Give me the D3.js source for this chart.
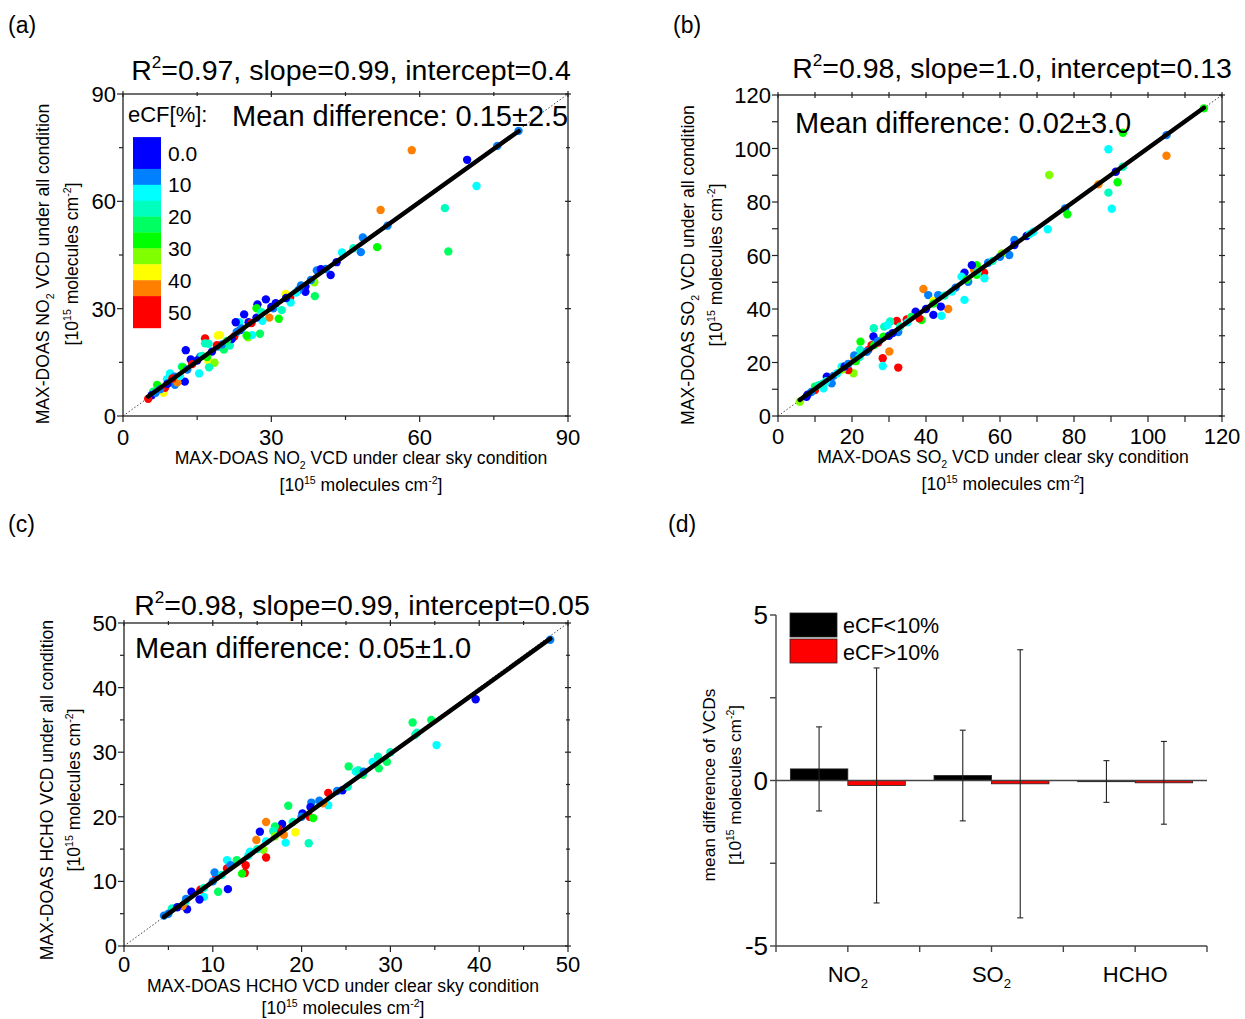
<!DOCTYPE html>
<html><head><meta charset="utf-8">
<script src="https://cdn.jsdelivr.net/npm/d3@7"></script>
<style>body{margin:0;background:#fff}text{font-family:"Liberation Sans",Arial,sans-serif;fill:#000}</style>
</head><body><svg id="c" width="1245" height="1019"></svg>
<script>
// ---------- DATA ----------
const ecfColors = ["#0000ff","#0080ff","#00ffff","#00ffbf","#00ff60","#00ff00","#80ff00","#ffff00","#ff8000","#ff0000"];
const ecfLegendLabels = ["0.0","10","20","30","40","50"];
// [clear-sky VCD, all-condition VCD, eCF class index]
const no2Points = [[80.0,79.7,1],[75.7,75.5,1],[69.6,71.6,0],[58.4,74.3,8],[71.5,64.3,2],[65.1,58.1,3],[52.1,57.6,8],[53.5,53.2,1],[51.4,47.2,5],[65.8,46.0,4],[48.5,49.9,1],[48.1,45.8,1],[44.3,45.7,2],[46.6,46.9,3],[43.2,43.0,0],[42.0,39.4,0],[41.0,41.1,1],[39.2,40.7,1],[38.7,37.4,6],[38.8,33.5,4],[36.9,36.2,0],[36.9,34.7,0],[35.5,35.2,1],[33.8,33.1,9],[32.9,34.1,7],[33.9,31.7,2],[28.9,32.6,0],[27.2,31.2,0],[27.0,30.1,5],[30.9,31.5,0],[30.4,30.1,1],[32.1,29.6,3],[31.5,27.2,5],[29.6,27.5,8],[28.2,26.6,2],[24.5,28.4,0],[25.4,26.2,0],[23.5,26.2,2],[22.8,26.2,0],[23.7,24.0,0],[27.7,23.0,4],[25.3,22.0,6],[26.1,22.6,2],[25.0,22.5,5],[22.5,22.2,9],[19.6,22.6,7],[19.2,22.5,7],[16.6,21.7,9],[16.6,20.3,3],[17.3,20.2,3],[19.2,19.4,1],[20.4,18.6,4],[21.6,19.7,3],[12.7,18.4,0],[13.7,15.8,0],[15.6,16.6,1],[17.3,15.2,7],[18.5,14.9,6],[17.4,13.6,3],[15.4,11.9,2],[11.9,13.8,3],[12.1,13.6,5],[9.5,11.9,2],[10.5,11.0,1],[12.5,9.6,0],[10.5,8.7,1],[11.0,9.4,8],[6.9,8.7,5],[8.2,6.5,7],[6.1,6.8,4],[8.5,7.9,9],[5.8,5.8,0],[6.6,6.5,1],[8.9,10.3,2],[20,20,1],[22,21.5,0],[24,24.5,1],[26,26,9],[27,27.5,0],[33,33,0],[36,36.5,1],[38,38,1],[9,9,0],[10,10.5,9],[13,13,1],[14,14.5,9],[16,16.8,3],[18,18,0],[17,16.5,5],[28,29,3],[30,30.5,0],[21,21,4],[19,19.8,9],[15,15.5,0],[7.5,7.5,1],[11.5,11.2,2],[23,23.5,1],[35,34.5,2],[40,41,0],[5.1,4.8,9]];
const so2Points = [[115.1,115.0,5],[105.0,105.0,1],[105.0,97.3,8],[93.2,105.9,5],[89.3,99.7,2],[73.3,90.1,6],[91.3,91.3,0],[93.2,93.2,3],[91.8,87.4,5],[86.6,86.6,8],[89.3,83.5,3],[90.2,77.5,2],[77.6,77.6,1],[78.2,75.4,5],[72.9,69.8,2],[69.0,68.9,2],[67.2,67.3,0],[63.9,65.8,1],[63.9,63.9,0],[62.5,60.2,1],[60.5,60.8,6],[56.8,57.3,1],[55.7,53.6,9],[55.8,51.5,2],[53.7,56.4,5],[53.0,54.6,8],[52.4,56.4,0],[50.4,53.6,0],[49.6,52.1,2],[51.4,50.2,1],[53.7,52.8,5],[50.4,43.4,2],[46.0,40.0,8],[39.3,47.5,8],[40.6,45.2,1],[42.0,43.1,7],[43.3,45.2,1],[44.0,40.9,0],[42.0,37.8,0],[44.2,37.5,2],[38.8,35.9,5],[38.2,36.5,9],[37.2,39.0,0],[34.8,36.1,9],[32.1,35.5,9],[30.3,35.3,3],[28.7,33.4,3],[25.9,32.8,3],[25.8,29.7,0],[29.6,34.0,2],[32.5,31.4,1],[28.5,29.6,5],[22.3,27.8,5],[25.3,26.5,9],[27.1,27.5,9],[24.4,24.7,9],[28.3,21.6,9],[30.1,24.1,8],[28.3,18.7,2],[32.5,18.1,9],[20.6,21.8,8],[20.6,22.6,1],[22.2,24.7,3],[20.4,16.0,6],[19.0,17.2,9],[17.2,18.4,2],[17.4,17.4,6],[14.5,12.2,1],[13.2,14.7,0],[12.3,10.4,2],[10.0,9.7,9],[7.7,7.2,0],[15,15,1],[16,16,2],[18,18.5,0],[22,22,3],[24,24,1],[26,26.5,5],[30,30,0],[33,33.5,3],[35,35,2],[40,40,0],[45,45,3],[48,48,1],[58,58,3],[12,12,3],[9,9,1],[10,11,4],[13,13,2],[8,8,0],[11,11.5,3],[19,19.5,1],[21,20.5,5],[27,28,1],[31,31,0],[36,37,4],[42,42,5],[47,46.5,2],[51,51,5],[54,54,3],[60,59.5,1],[68,68,2],[5.9,5.3,6]];
const hchoPoints = [[48.0,47.4,1],[39.6,38.2,0],[32.5,34.6,4],[34.6,35.0,4],[32.8,32.7,3],[35.2,31.1,2],[28.6,29.3,3],[29.6,28.5,4],[28.7,27.5,4],[26.9,26.5,4],[25.3,27.8,4],[26.1,27.0,2],[26.4,27.2,3],[24.6,24.1,0],[25.2,24.7,3],[23.0,23.7,9],[21.1,22.2,1],[23.0,21.8,2],[22.4,22.1,8],[18.5,21.7,4],[20.1,20.5,0],[20.9,20.0,9],[21.3,19.8,5],[20.8,15.9,3],[16.0,19.2,8],[15.3,17.7,0],[17.8,18.9,0],[17.4,18.1,9],[19.3,17.6,7],[18.2,16.0,2],[18.0,17.2,8],[17.0,18.5,4],[16.8,17.8,3],[14.9,16.4,8],[15.7,14.9,6],[16.0,13.7,9],[14.2,14.6,2],[11.6,13.3,2],[12.7,13.3,4],[13.7,12.5,9],[13.6,11.3,9],[13.3,11.2,5],[11.6,12.0,9],[10.4,10.7,9],[10.2,11.4,1],[11.7,8.8,0],[10.6,8.4,4],[8.6,8.7,9],[9.0,7.6,2],[8.5,7.2,0],[7.6,8.4,0],[7.1,5.7,0],[6.9,6.8,3],[6.6,6.2,8],[5.4,5.8,3],[5,5,1],[6,6,0],[7,7.3,1],[9,9,3],[10,10,1],[11,11,3],[12,12.5,1],[14,14,2],[15,15,3],[16,16.2,2],[17,17,6],[19,19.2,3],[20,20,1],[21,21.5,0],[22,22.5,1],[24,24,1],[27,27,1],[28,28.5,2],[30,30,3],[33,33,3],[4.5,4.7,1]];
const fitStats = [
  {r2:"0.97", slope:0.99, slopeTxt:"0.99", icpt:0.4, icptTxt:"0.4", mean:"0.15", sd:"2.5"},
  {r2:"0.98", slope:1.0, slopeTxt:"1.0", icpt:0.13, icptTxt:"0.13", mean:"0.02", sd:"3.0"},
  {r2:"0.98", slope:0.99, slopeTxt:"0.99", icpt:0.05, icptTxt:"0.05", mean:"0.05", sd:"1.0"}
];
const barCategories = ["NO2","SO2","HCHO"];
const clearMean = [0.35, 0.15, -0.03];
const clearSd = [1.27, 1.37, 0.63];
const cloudyMean = [-0.15, -0.10, -0.07];
const cloudySd = [3.55, 4.05, 1.25];
const barSeriesLabels = ["eCF<10%","eCF>10%"];

// ---------- DRAWING ----------
const svg = d3.select("#c");

function rich(g, x, y, segs, size, anchor, rotate) {
  const t = g.append("text").attr("font-size", size).attr("text-anchor", anchor || "start");
  if (rotate) t.attr("transform", `translate(${x},${y}) rotate(-90)`);
  else t.attr("x", x).attr("y", y);
  let cur = 0;
  segs.forEach(s => {
    let target = 0, txt = s, fs = null;
    if (typeof s !== "string") {
      if (s.sub !== undefined) { target = size * 0.28; txt = s.sub; fs = size * 0.6; }
      else { target = -size * 0.42; txt = s.sup; fs = size * 0.6; }
    }
    const ts = t.append("tspan").attr("dy", target - cur).text(txt);
    if (fs) ts.attr("font-size", fs);
    cur = target;
  });
  return t;
}

const unitSegs = ["[10", {sup:"15"}, " molecules cm", {sup:"-2"}, "]"];

function scatter(cfg) {
  const x = d3.scaleLinear().domain([0, cfg.max]).range([cfg.x0, cfg.x1]);
  const y = d3.scaleLinear().domain([0, cfg.max]).range([cfg.y1, cfg.y0]);
  const g = svg.append("g");
  const allTicks = d3.range(0, cfg.max + 0.001, cfg.minor);
  const majTicks = d3.range(0, cfg.max + 0.001, cfg.major);
  g.append("line").attr("x1", x(0)).attr("y1", y(0)).attr("x2", x(cfg.max)).attr("y2", y(cfg.max))
    .attr("stroke", "#444").attr("stroke-width", 1).attr("stroke-dasharray", "1.5,2");
  g.selectAll("circle.pt").data(cfg.points).join("circle").attr("class","pt")
    .attr("cx", d => x(d[0])).attr("cy", d => y(d[1])).attr("r", 4.2)
    .attr("fill", d => ecfColors[d[2]]);
  const ext = d3.extent(cfg.points, d => d[0]);
  const st = cfg.stats;
  g.append("line").attr("x1", x(ext[0])).attr("y1", y(st.slope * ext[0] + st.icpt))
    .attr("x2", x(ext[1])).attr("y2", y(st.slope * ext[1] + st.icpt))
    .attr("stroke", "#000").attr("stroke-width", 4.5).attr("stroke-linecap", "round");
  g.append("rect").attr("x", cfg.x0).attr("y", cfg.y0).attr("width", cfg.x1 - cfg.x0).attr("height", cfg.y1 - cfg.y0)
    .attr("fill", "none").attr("stroke", "#222").attr("stroke-width", 1.3);
  const tk = g.append("g").attr("stroke", "#222").attr("stroke-width", 1.2);
  allTicks.forEach(v => {
    const isMaj = majTicks.some(m => Math.abs(m - v) < 1e-6);
    const L = isMaj ? 6 : (cfg.equalTicks ? 6 : 4);
    tk.append("line").attr("x1", x(v)).attr("x2", x(v)).attr("y1", cfg.y1).attr("y2", cfg.y1 + L);
    tk.append("line").attr("x1", x(v)).attr("x2", x(v)).attr("y1", cfg.y0 - L/2).attr("y2", cfg.y0 + L/2);
    tk.append("line").attr("y1", y(v)).attr("y2", y(v)).attr("x1", cfg.x0 - L).attr("x2", cfg.x0);
    tk.append("line").attr("y1", y(v)).attr("y2", y(v)).attr("x1", cfg.x1 - L/2).attr("x2", cfg.x1 + L/2);
  });
  majTicks.forEach(v => {
    g.append("text").attr("x", x(v)).attr("y", cfg.y1 + cfg.tl).attr("text-anchor", "middle").attr("font-size", 22).text(v);
    g.append("text").attr("x", cfg.x0 - 7).attr("y", y(v) + 8).attr("text-anchor", "end").attr("font-size", 22).text(v);
  });
  rich(g, cfg.titleX, cfg.titleY, ["R", {sup:"2"}, `=${st.r2}, slope=${st.slopeTxt}, intercept=${st.icptTxt}`], 28.5, "middle");
  g.append("text").attr("x", cfg.meanX).attr("y", cfg.meanY).attr("font-size", 29)
    .text(`Mean difference: ${st.mean}\u00b1${st.sd}`);
  const sp = cfg.species[1] ? [{sub: cfg.species[1]}] : [];
  rich(g, cfg.xlabX, cfg.y1 + cfg.xl1, ["MAX-DOAS " + cfg.species[0], ...sp, " VCD under clear sky condition"], 17.6, "middle");
  rich(g, cfg.xlabX, cfg.y1 + cfg.xl2, unitSegs, 17.6, "middle");
  rich(g, cfg.ylab1, cfg.ylabY, ["MAX-DOAS " + cfg.species[0], ...sp, " VCD under all condition"], 17.6, "middle", true);
  rich(g, cfg.ylab2, cfg.ylabY, unitSegs, 17.6, "middle", true);
}

scatter({points: no2Points, stats: fitStats[0], max: 90, major: 30, minor: 15,
  x0: 123, x1: 568, y0: 94, y1: 416, titleX: 351, titleY: 80, meanX: 232, meanY: 126,
  tl: 29, xlabX: 361, xl1: 48, xl2: 75, ylab1: 49, ylab2: 78, ylabY: 264, species: ["NO","2"]});
scatter({points: so2Points, stats: fitStats[1], max: 120, major: 20, minor: 10, equalTicks: true,
  x0: 778, x1: 1222, y0: 95, y1: 416, titleX: 1012, titleY: 78, meanX: 795, meanY: 133,
  tl: 28, xlabX: 1003, xl1: 47, xl2: 74, ylab1: 694, ylab2: 722, ylabY: 265, species: ["SO","2"]});
scatter({points: hchoPoints, stats: fitStats[2], max: 50, major: 10, minor: 5,
  x0: 124, x1: 568, y0: 623, y1: 946, titleX: 362, titleY: 615, meanX: 135, meanY: 658,
  tl: 26, xlabX: 343, xl1: 46, xl2: 68, ylab1: 53, ylab2: 80, ylabY: 790, species: ["HCHO"]});

// eCF colour legend in panel (a)
(function(){
  const g = svg.append("g");
  g.append("text").attr("x", 128).attr("y", 122).attr("font-size", 22).text("eCF[%]:");
  const ls = d3.scaleLinear().domain([0, 50]).range([153, 312]);
  const bounds = [-5, 5, 10, 15, 20, 25, 30, 35, 40, 45, 55];
  ecfColors.forEach((c, i) => {
    g.append("rect").attr("x", 133).attr("width", 28).attr("y", ls(bounds[i])).attr("height", ls(bounds[i+1]) - ls(bounds[i]) + 0.3).attr("fill", c);
  });
  ecfLegendLabels.forEach((l, i) => {
    g.append("text").attr("x", 168).attr("y", ls(i * 10) + 7.5).attr("font-size", 21).text(l);
  });
})();

// panel (d) bar chart
(function(){
  const g = svg.append("g");
  const xb = d3.scaleBand().domain(barCategories).range([776, 1207]).padding(0);
  const yb = d3.scaleLinear().domain([-5, 5]).range([946, 615]);
  const bw = xb.bandwidth();
  const series = [
    {mean: clearMean, sd: clearSd, color: "#000", off: -0.4},
    {mean: cloudyMean, sd: cloudySd, color: "#ff0000", off: 0}
  ];
  series.forEach(s => {
    barCategories.forEach((c, i) => {
      const cx = xb(c) + bw / 2;
      const bx = cx + s.off * bw;
      const v = s.mean[i];
      g.append("rect").attr("x", bx).attr("width", 0.4 * bw)
        .attr("y", Math.min(yb(v), yb(0))).attr("height", Math.max(1.2, Math.abs(yb(v) - yb(0))))
        .attr("fill", s.color).attr("stroke", "#222").attr("stroke-width", 0.8);
    });
  });
  g.append("line").attr("x1", 776).attr("x2", 1207).attr("y1", yb(0)).attr("y2", yb(0)).attr("stroke", "#444").attr("stroke-width", 1.5);
  series.forEach(s => {
    barCategories.forEach((c, i) => {
      const ex = xb(c) + bw / 2 + s.off * bw + 0.2 * bw;
      const top = yb(s.mean[i] + s.sd[i]), bot = yb(s.mean[i] - s.sd[i]);
      const eg = g.append("g").attr("stroke", "#222").attr("stroke-width", 1.1);
      eg.append("line").attr("x1", ex).attr("x2", ex).attr("y1", top).attr("y2", bot);
      eg.append("line").attr("x1", ex - 3).attr("x2", ex + 3).attr("y1", top).attr("y2", top);
      eg.append("line").attr("x1", ex - 3).attr("x2", ex + 3).attr("y1", bot).attr("y2", bot);
    });
  });
  const ax = g.append("g").attr("stroke", "#444").attr("stroke-width", 1.4);
  ax.append("line").attr("x1", 776).attr("x2", 776).attr("y1", 615).attr("y2", 946);
  ax.append("line").attr("x1", 776).attr("x2", 1207).attr("y1", 946).attr("y2", 946);
  [-5, -2.5, 0, 2.5, 5].forEach(v => ax.append("line").attr("x1", 770).attr("x2", 776).attr("y1", yb(v)).attr("y2", yb(v)));
  const xt = [];
  barCategories.forEach(c => { xt.push(xb(c)); xt.push(xb(c) + bw / 2); });
  xt.push(1207);
  xt.forEach(v => ax.append("line").attr("x1", v).attr("x2", v).attr("y1", 946).attr("y2", 952));
  [-5, 0, 5].forEach(v => g.append("text").attr("x", 768).attr("y", yb(v) + 9).attr("text-anchor", "end").attr("font-size", 26).text(v));
  const catSegs = {"NO2": ["NO", {sub:"2"}], "SO2": ["SO", {sub:"2"}], "HCHO": ["HCHO"]};
  barCategories.forEach(c => rich(g, xb(c) + bw / 2, 982, catSegs[c], 22, "middle"));
  rich(g, 715, 785, ["mean difference of VCDs"], 17.3, "middle", true);
  rich(g, 741, 785, unitSegs, 17.3, "middle", true);
  const lc = ["#000", "#ff0000"];
  barSeriesLabels.forEach((l, i) => {
    g.append("rect").attr("x", 790).attr("y", 613 + i * 26).attr("width", 47).attr("height", 24).attr("fill", lc[i]).attr("stroke", "#222").attr("stroke-width", 0.8);
    g.append("text").attr("x", 843).attr("y", 633 + i * 27).attr("font-size", 21.5).text(l);
  });
})();

[["(a)", 8, 33], ["(b)", 673, 33], ["(c)", 8, 532], ["(d)", 668, 532]].forEach(p =>
  svg.append("text").attr("x", p[1]).attr("y", p[2]).attr("font-size", 23).text(p[0]));
</script></body></html>
